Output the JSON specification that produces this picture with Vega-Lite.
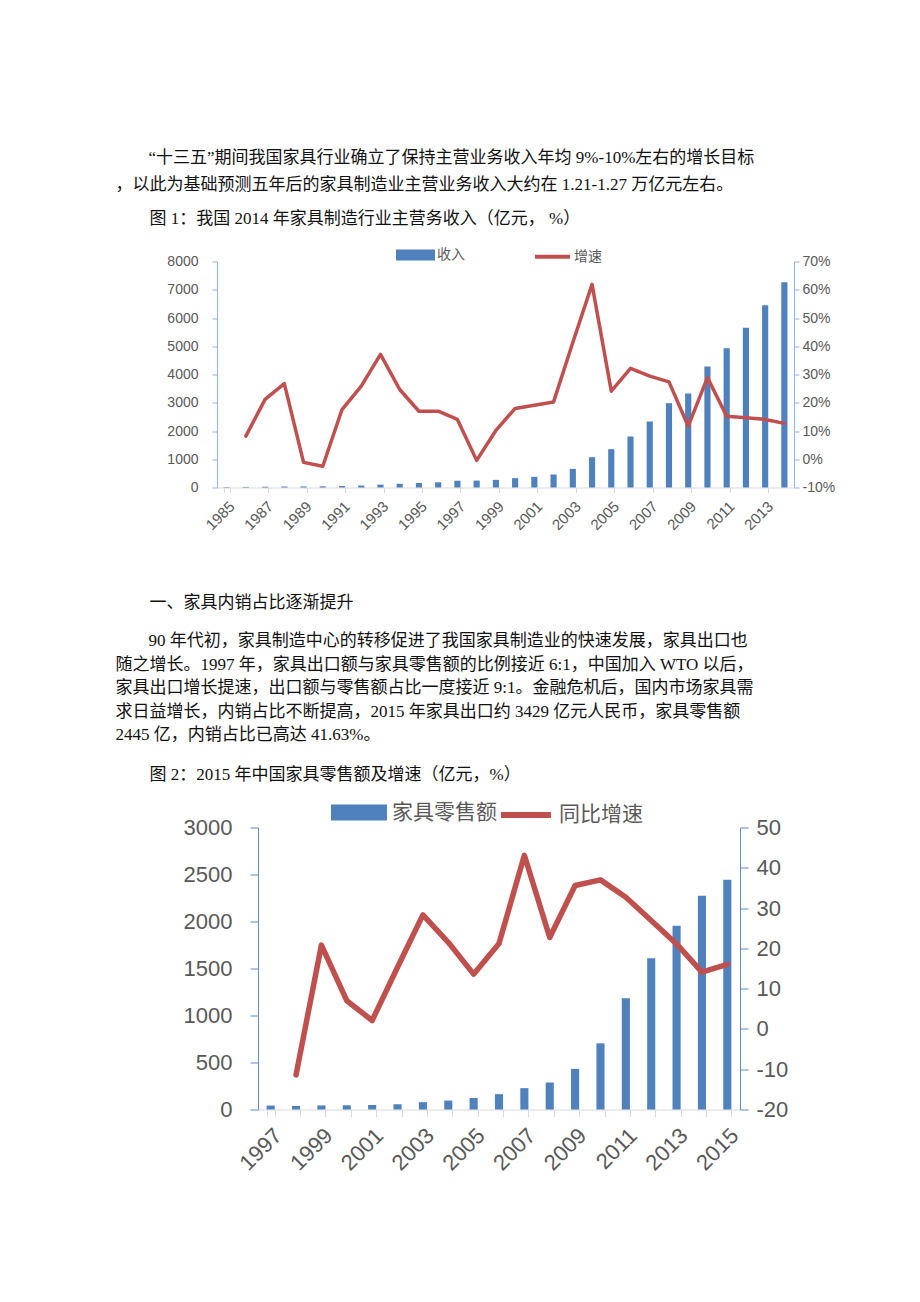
{
  "$schema": "https://vega.github.io/schema/vega-lite/v6.json",
  "background": "white",
  "padding": {"left": 114, "top": 144.5, "right": 5, "bottom": 5},
  "autosize": {"type": "pad"},
  "bounds": "flush",
  "spacing": 0,
  "resolve": {"scale": {"color": "independent"}, "legend": {"color": "independent"}},
  "config": {"view": {"stroke": null}, "font": "Liberation Sans"},
  "datasets": {
    "c1": [
      {"year": 1985, "income": 15, "growth": null},
      {"year": 1986, "income": 20, "growth": 0.082},
      {"year": 1987, "income": 28, "growth": 0.212},
      {"year": 1988, "income": 35, "growth": 0.268},
      {"year": 1989, "income": 38, "growth": -0.011},
      {"year": 1990, "income": 42, "growth": -0.025},
      {"year": 1991, "income": 52, "growth": 0.176},
      {"year": 1992, "income": 68, "growth": 0.259},
      {"year": 1993, "income": 100, "growth": 0.371},
      {"year": 1994, "income": 130, "growth": 0.247},
      {"year": 1995, "income": 160, "growth": 0.170},
      {"year": 1996, "income": 185, "growth": 0.170},
      {"year": 1997, "income": 240, "growth": 0.141},
      {"year": 1998, "income": 245, "growth": -0.004},
      {"year": 1999, "income": 270, "growth": 0.102},
      {"year": 2000, "income": 330, "growth": 0.180},
      {"year": 2001, "income": 378, "growth": 0.191},
      {"year": 2002, "income": 460, "growth": 0.203},
      {"year": 2003, "income": 660, "growth": 0.413},
      {"year": 2004, "income": 1073, "growth": 0.619},
      {"year": 2005, "income": 1357, "growth": 0.241},
      {"year": 2006, "income": 1805, "growth": 0.322},
      {"year": 2007, "income": 2336, "growth": 0.294},
      {"year": 2008, "income": 2985, "growth": 0.274},
      {"year": 2009, "income": 3327, "growth": 0.117},
      {"year": 2010, "income": 4283, "growth": 0.289},
      {"year": 2011, "income": 4932, "growth": 0.152},
      {"year": 2012, "income": 5653, "growth": 0.147},
      {"year": 2013, "income": 6454, "growth": 0.141},
      {"year": 2014, "income": 7268, "growth": 0.127}
    ],
    "c2": [
      {"year": 1997, "retail": 42, "growth": null},
      {"year": 1998, "retail": 37, "growth": -11.4},
      {"year": 1999, "retail": 43, "growth": 20.8},
      {"year": 2000, "retail": 45, "growth": 7.0},
      {"year": 2001, "retail": 47, "growth": 2.1},
      {"year": 2002, "retail": 56, "growth": 15.3},
      {"year": 2003, "retail": 78, "growth": 28.3},
      {"year": 2004, "retail": 95, "growth": 21.5},
      {"year": 2005, "retail": 123, "growth": 13.6},
      {"year": 2006, "retail": 163, "growth": 21.2},
      {"year": 2007, "retail": 227, "growth": 43.1},
      {"year": 2008, "retail": 287, "growth": 22.7},
      {"year": 2009, "retail": 432, "growth": 35.6},
      {"year": 2010, "retail": 704, "growth": 37.0},
      {"year": 2011, "retail": 1183, "growth": 32.7},
      {"year": 2012, "retail": 1608, "growth": 26.9},
      {"year": 2013, "retail": 1955, "growth": 21.1},
      {"year": 2014, "retail": 2274, "growth": 14.1},
      {"year": 2015, "retail": 2445, "growth": 16.0}
    ]
  },
  "vconcat": [
    {
      "width": 1, "height": 54,
      "data": {"values": [
        {"line": 1, "text": "“十三五”期间我国家具行业确立了保持主营业务收入年均 9%-10%左右的增长目标"},
        {"line": 2, "text": "，以此为基础预测五年后的家具制造业主营业务收入大约在 1.21-1.27 万亿元左右。"}
      ]},
      "encoding": {
        "y": {"field": "line", "type": "ordinal", "axis": null, "scale": {"type": "point", "padding": 0.5, "align": 0.5}},
        "text": {"field": "text"}
      },
      "layer": [
        {"transform": [{"filter": "datum.line == 1"}],
         "mark": {"type": "text", "align": "left", "baseline": "middle", "dx": 33, "fontSize": 17, "font": "Liberation Serif, Noto Sans CJK SC", "color": "#111111"}},
        {"transform": [{"filter": "datum.line > 1"}],
         "mark": {"type": "text", "align": "left", "baseline": "middle", "fontSize": 17, "font": "Liberation Serif, Noto Sans CJK SC", "color": "#111111"}}
      ]
    },
    {
      "width": 1, "height": 62.5,
      "data": {"values": [{"line": 1, "text": "图 1：我国 2014 年家具制造行业主营务收入（亿元， %）"}]},
      "mark": {"type": "text", "align": "left", "baseline": "middle", "dx": 34, "fontSize": 17, "font": "Liberation Serif, Noto Sans CJK SC", "color": "#111111"},
      "encoding": {
        "y": {"field": "line", "type": "ordinal", "axis": null, "scale": {"type": "point", "padding": 0.5, "align": 0.328}},
        "text": {"field": "text"}
      }
    },
    {
      "width": 679, "height": 226,
      "data": {"name": "c1"},
      "encoding": {
        "x": {"field": "year", "type": "ordinal",
          "scale": {"type": "band", "paddingInner": 0.68, "paddingOuter": 0.34, "range": [102, 679]},
          "axis": {"title": null, "values": [1985,1987,1989,1991,1993,1995,1997,1999,2001,2003,2005,2007,2009,2011,2013],
            "labelAngle": -45, "labelAlign": "right", "labelBaseline": "top", "labelFontSize": 15, "labelColor": "#595959",
            "labelPadding": 6, "domainColor": "#D9D9D9", "tickColor": "#D9D9D9", "tickSize": 5, "tickBand": "extent", "labelOverlap": false}}
      },
      "layer": [
        {
          "mark": {"type": "bar"},
          "encoding": {
            "y": {"field": "income", "type": "quantitative", "scale": {"domain": [0, 8000], "nice": false},
              "axis": {"title": null, "offset": -102, "values": [0,1000,2000,3000,4000,5000,6000,7000,8000], "format": "d", "grid": false,
                "domainColor": "#8EB4E3", "tickColor": "#8EB4E3", "tickSize": 5, "labelPadding": 14,
                "labelFontSize": 14, "labelColor": "#595959", "labelFlush": false, "labelOverlap": false}},
            "color": {"datum": "收入", "type": "nominal",
              "scale": {"domain": ["收入", "增速"], "range": ["#4F81BD", "#C0504D"]},
              "legend": {"orient": "none", "legendX": 281, "legendY": -26, "direction": "horizontal", "title": null,
                "symbolSize": 1225, "labelFontSize": 14, "labelFont": "Noto Sans CJK SC", "labelColor": "#595959",
                "labelOffset": 2, "columnPadding": 62,
                "encode": {"symbols": {"update": {
                  "shape": {"signal": "datum.value === '收入' ? 'M-1,-0.2H1V0.2H-1Z' : 'M-1,0H1'"},
                  "fill": {"signal": "datum.value === '收入' ? '#4F81BD' : 'transparent'"},
                  "stroke": {"signal": "datum.value === '收入' ? 'transparent' : '#C0504D'"},
                  "strokeWidth": {"value": 4}
                }}}}}
          }
        },
        {
          "mark": {"type": "line", "strokeWidth": 3.5, "strokeJoin": "round", "strokeCap": "round"},
          "encoding": {
            "y": {"field": "growth", "type": "quantitative", "scale": {"domain": [-0.1, 0.7], "nice": false, "zero": false},
              "axis": {"title": null, "orient": "right", "values": [-0.1,0,0.1,0.2,0.3,0.4,0.5,0.6,0.7],
                "labelExpr": "round(datum.value * 100) + '%'", "grid": false,
                "domainColor": "#8EB4E3", "tickColor": "#8EB4E3", "tickSize": 5, "labelPadding": 3,
                "labelFontSize": 14, "labelColor": "#595959", "labelFlush": false, "labelOverlap": false}},
            "color": {"datum": "增速", "type": "nominal"}
          }
        }
      ],
      "resolve": {"scale": {"y": "independent"}}
    },
    {
      "width": 1, "height": 141.25,
      "data": {"values": [{"line": 1, "text": "一、家具内销占比逐渐提升"}]},
      "mark": {"type": "text", "align": "left", "baseline": "middle", "dx": 34, "fontSize": 17, "font": "Liberation Serif, Noto Sans CJK SC", "color": "#111111"},
      "encoding": {
        "y": {"field": "line", "type": "ordinal", "axis": null, "scale": {"type": "point", "padding": 0.5, "align": 0.8142}},
        "text": {"field": "text"}
      }
    },
    {
      "width": 1, "height": 117.5,
      "data": {"values": [
        {"line": 1, "text": "90 年代初，家具制造中心的转移促进了我国家具制造业的快速发展，家具出口也"},
        {"line": 2, "text": "随之增长。1997 年，家具出口额与家具零售额的比例接近 6:1，中国加入 WTO 以后，"},
        {"line": 3, "text": "家具出口增长提速，出口额与零售额占比一度接近 9:1。金融危机后，国内市场家具需"},
        {"line": 4, "text": "求日益增长，内销占比不断提高，2015 年家具出口约 3429 亿元人民币，家具零售额"},
        {"line": 5, "text": "2445 亿，内销占比已高达 41.63%。"}
      ]},
      "encoding": {
        "y": {"field": "line", "type": "ordinal", "axis": null, "scale": {"type": "point", "padding": 0.5, "align": 0.5}},
        "text": {"field": "text"}
      },
      "layer": [
        {"transform": [{"filter": "datum.line == 1"}],
         "mark": {"type": "text", "align": "left", "baseline": "middle", "dx": 33, "fontSize": 17, "font": "Liberation Serif, Noto Sans CJK SC", "color": "#111111"}},
        {"transform": [{"filter": "datum.line > 1"}],
         "mark": {"type": "text", "align": "left", "baseline": "middle", "fontSize": 17, "font": "Liberation Serif, Noto Sans CJK SC", "color": "#111111"}}
      ]
    },
    {
      "width": 1, "height": 79.25,
      "data": {"values": [{"line": 1, "text": "图 2：2015 年中国家具零售额及增速（亿元，%）"}]},
      "mark": {"type": "text", "align": "left", "baseline": "middle", "dx": 34, "fontSize": 17, "font": "Liberation Serif, Noto Sans CJK SC", "color": "#111111"},
      "encoding": {
        "y": {"field": "line", "type": "ordinal", "axis": null, "scale": {"type": "point", "padding": 0.5, "align": 0.3438}},
        "text": {"field": "text"}
      }
    },
    {
      "width": 625, "height": 282,
      "data": {"name": "c2"},
      "encoding": {
        "x": {"field": "year", "type": "ordinal",
          "scale": {"type": "band", "paddingInner": 0.68, "paddingOuter": 0.34, "range": [143, 625]},
          "axis": {"title": null, "labelExpr": "datum.value % 2 == 1 ? datum.label : ''",
            "labelAngle": -45, "labelAlign": "right", "labelBaseline": "top", "labelFontSize": 22, "labelColor": "#595959",
            "labelPadding": 8, "domainColor": "#D9D9D9", "tickColor": "#D9D9D9", "tickSize": 7, "tickBand": "extent", "labelOverlap": false}}
      },
      "layer": [
        {
          "mark": {"type": "bar"},
          "encoding": {
            "y": {"field": "retail", "type": "quantitative", "scale": {"domain": [0, 3000], "nice": false},
              "axis": {"title": null, "offset": -143, "values": [0,500,1000,1500,2000,2500,3000], "format": "d", "grid": false,
                "domainColor": "#5B8BC9", "tickColor": "#5B8BC9", "tickSize": 8, "labelPadding": 18,
                "labelFontSize": 22, "labelColor": "#595959", "labelFlush": false, "labelOverlap": false}},
            "color": {"datum": "家具零售额", "type": "nominal",
              "scale": {"domain": ["家具零售额", "同比增速"], "range": ["#4F81BD", "#C0504D"]},
              "legend": {"orient": "none", "legendX": 216, "legendY": -43, "direction": "horizontal", "title": null,
                "symbolSize": 2500, "labelFontSize": 21, "labelFont": "Noto Sans CJK SC", "labelColor": "#595959",
                "labelOffset": 5, "columnPadding": -8,
                "encode": {"symbols": {"update": {
                  "shape": {"signal": "datum.value === '家具零售额' ? 'M-1,-0.2H1V0.2H-1Z' : 'M-1,0H1'"},
                  "fill": {"signal": "datum.value === '家具零售额' ? '#4F81BD' : 'transparent'"},
                  "stroke": {"signal": "datum.value === '家具零售额' ? 'transparent' : '#C0504D'"},
                  "strokeWidth": {"value": 6}
                }}}}}
          }
        },
        {
          "mark": {"type": "line", "strokeWidth": 5.5, "strokeJoin": "round", "strokeCap": "round"},
          "encoding": {
            "y": {"field": "growth", "type": "quantitative", "scale": {"domain": [-20, 50], "nice": false, "zero": false},
              "axis": {"title": null, "orient": "right", "values": [-20,-10,0,10,20,30,40,50],
                "labelExpr": "datum.value + ''", "grid": false,
                "domainColor": "#5B8BC9", "tickColor": "#5B8BC9", "tickSize": 8, "labelPadding": 8,
                "labelFontSize": 22, "labelColor": "#595959", "labelFlush": false, "labelOverlap": false}},
            "color": {"datum": "同比增速", "type": "nominal"}
          }
        }
      ],
      "resolve": {"scale": {"y": "independent"}}
    }
  ]
}
